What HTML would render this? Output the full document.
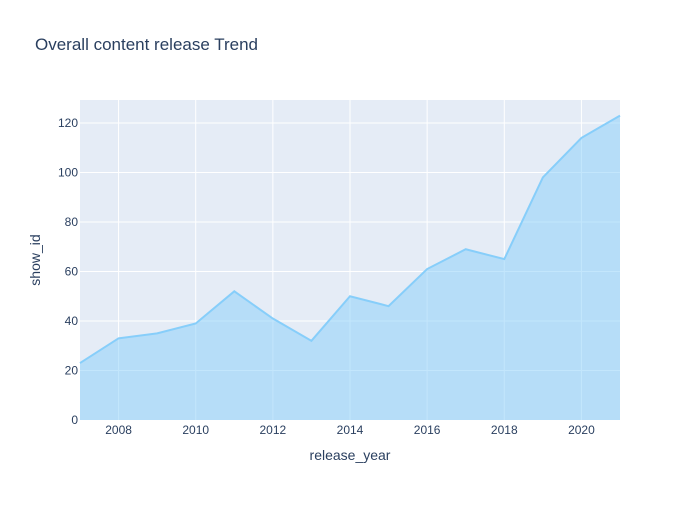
<!DOCTYPE html>
<html><head><meta charset="utf-8"><style>
body{margin:0;background:#fff;font-family:"Liberation Sans",sans-serif;}
svg text{font-family:"Liberation Sans",sans-serif;}
</style></head><body>
<svg id="chart" width="700" height="500">
<rect width="700" height="500" fill="#fff"/>
<text x="35" y="50" font-size="17" fill="#2a3f5f">Overall content release Trend</text>
<rect x="80" y="100" width="540" height="320" fill="#e5ecf6"/>
<g id="grid"></g>
<g id="marks"></g>
<g id="axes"></g>
<text x="350" y="460" font-size="14" fill="#2a3f5f" text-anchor="middle">release_year</text>
<text transform="translate(40,260) rotate(-90)" font-size="14" fill="#2a3f5f" text-anchor="middle">show_id</text>
</svg>
<script>
const years=[2007,2008,2009,2010,2011,2012,2013,2014,2015,2016,2017,2018,2019,2020,2021];
const counts=[23,33,35,39,52,41,32,50,46,61,69,65,98,114,123];
const xTicks=[2008,2010,2012,2014,2016,2018,2020];
const yTicks=[0,20,40,60,80,100,120];
const L=80,R=620,T=100,B=420,xmin=2007,xmax=2021,ymax=129.3;
const X=v=>L+(v-xmin)/(xmax-xmin)*(R-L);
const Y=v=>B-v/ymax*(B-T);
const NS="http://www.w3.org/2000/svg";
const g=document.getElementById('grid'),m=document.getElementById('marks'),a=document.getElementById('axes');
function mk(t,at,p){const e=document.createElementNS(NS,t);for(const k in at)e.setAttribute(k,at[k]);p.appendChild(e);return e;}
xTicks.forEach(v=>{
 const l=mk('line',{x1:X(v),x2:X(v),y1:T,y2:B,stroke:'#fff','stroke-width':1},g);
 
 
 const t=mk('text',{x:X(v),y:B+14,'font-size':12,fill:'#2a3f5f','text-anchor':'middle'},a);
 t.textContent=v;
 
 
});
yTicks.forEach(v=>{
 if(v>0){const l=mk('line',{x1:L,x2:R,y1:Y(v),y2:Y(v),stroke:'#fff','stroke-width':1},g);
 
 }
 const t=mk('text',{x:L-2,y:Y(v)+4,'font-size':12,fill:'#2a3f5f','text-anchor':'end'},a);
 t.textContent=v;
 
 
});
const pts=years.map((y,i)=>X(y)+','+Y(counts[i]));
const area=mk('polygon',{points:X(years[0])+','+Y(0)+' '+pts.join(' ')+' '+X(years[years.length-1])+','+Y(0),fill:'rgba(135,206,250,0.5)'},m);


const line=mk('polyline',{points:pts.join(' '),fill:'none',stroke:'#87cefa','stroke-width':2},m);


</script>
</body></html>
